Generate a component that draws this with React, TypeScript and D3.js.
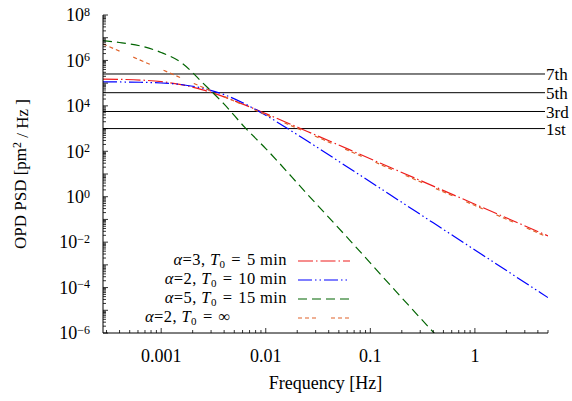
import React from "react";
import * as d3 from "d3";

// ---- data ----
const FREQ = [0.0002778, 0.0004, 0.00063, 0.001, 0.0016, 0.0025, 0.004, 0.0063, 0.01, 0.025, 0.063, 0.16, 0.4, 1, 2.5, 5];
const PSD_RED = [1.51e5, 1.47e5, 1.37e5, 1.165e5, 8.4e4, 5.06e4, 2.47e4, 1.1e4, 4560, 747, 118, 18.3, 2.93, 0.469, 0.0751, 0.0188];
const PSD_BLUE = [1.139e5, 1.127e5, 1.093e5, 1.015e5, 8.52e4, 6.01e4, 3.12e4, 1.232e4, 3836, 281, 18.0, 1.103, 0.0706, 0.00452, 2.89e-4, 3.62e-5];
const PSD_ORANGE = [5.3e6, 2.56e6, 1.03e6, 4.1e5, 1.6e5, 6.56e4, 2.56e4, 1.03e4, 4100, 656, 103, 16.0, 2.56, 0.41, 0.0656, 0.0164];
const FREQ_GREEN = [0.0002778, 0.000398, 0.000631, 0.001, 0.001585, 0.00251, 0.00398, 0.00631, 0.01, 0.0251, 0.0631, 0.158, 0.398, 0.631];
const PSD_GREEN = [7.41e6, 6.17e6, 4.37e6, 2.24e6, 7.59e5, 1.0e5, 1.22e4, 1130, 132, 1.26, 0.0126, 1.17e-4, 1.12e-6, 1.15e-7];

const HARMONIC_LABELS = ["7th", "5th", "3rd", "1st"];
const HARMONIC_VALUES = [2.53e5, 3.8e4, 5.65e3, 1.0e3];

const X_TICKS = [0.001, 0.01, 0.1, 1];
const X_TICK_LABELS = ["0.001", "0.01", "0.1", "1"];
const Y_TICK_EXPONENTS = [8, 6, 4, 2, 0, -2, -4, -6];

const LEGEND_ALPHA = ["3", "2", "5", "2"];
const LEGEND_T0 = ["5 min", "10 min", "15 min", "∞"];

const FONT = "Liberation Serif, DejaVu Serif, serif";

export default function App() {
  const W = 572, H = 401;
  const left = 103, right = 548, top = 15, bottom = 333;
  const x = d3.scaleLog().domain([1 / 3600, 5]).range([left, right]);
  const y = d3.scaleLog().domain([1e-6, 1e8]).range([bottom, top]);

  const mk = (fs: number[], vs: number[]) =>
    d3
      .line<number>()
      .x((_, i) => x(fs[i]))
      .y((_, i) => y(vs[i]))
      .curve(d3.curveMonotoneX)(vs) || "";

  const series = [
    { fs: FREQ, vs: PSD_RED, color: "#ee1c1c", dash: "15,3,1.5,3" },
    { fs: FREQ, vs: PSD_BLUE, color: "#0000ff", dash: "14,3,1.5,3,1.5,3" },
    { fs: FREQ_GREEN, vs: PSD_GREEN, color: "#006400", dash: "9,5" },
    { fs: FREQ, vs: PSD_ORANGE, color: "#e0622a", dash: "4,3,4,3,4,15" },
  ];

  const xTicks: { v: number; major: boolean }[] = [];
  for (let e = -4; e <= 0; e++) {
    for (let k = 1; k <= 9; k++) {
      const v = k * Math.pow(10, e);
      if (v >= 1 / 3600 && v <= 5) xTicks.push({ v, major: k === 1 });
    }
  }
  const yTicks: { v: number; major: boolean }[] = [];
  for (let e = -6; e <= 8; e++) {
    for (let k = 1; k <= 9; k++) {
      const v = k * Math.pow(10, e);
      if (v <= 1e8) yTicks.push({ v, major: k === 1 });
    }
  }

  const legendBase = 265;
  const legendStep = 19;
  const SP = "\u2004";

  return (
    <svg width={W} height={H} style={{ position: "absolute", left: 0, top: 0, background: "#fff", fontFamily: FONT }}>
      <defs>
        <clipPath id="plotclip">
          <rect x={left} y={top} width={right - left} height={bottom - top} />
        </clipPath>
      </defs>

      {/* harmonic lines */}
      {HARMONIC_VALUES.map((v, i) => (
        <g key={"h" + i}>
          <line x1={left} x2={545} y1={y(v)} y2={y(v)} stroke="#000" strokeWidth={1} />
          <text x={546} y={y(v)} dy="0.36em" fontSize={17} fill="#000">
            {HARMONIC_LABELS[i]}
          </text>
        </g>
      ))}

      {/* curves */}
      <g clipPath="url(#plotclip)">
        {series.map((s, i) => (
          <path key={"s" + i} d={mk(s.fs, s.vs)} fill="none" stroke={s.color} strokeWidth={1.2} strokeDasharray={s.dash} />
        ))}
      </g>

      {/* axes */}
      <line x1={left} x2={left} y1={top} y2={bottom} stroke="#000" strokeWidth={1} />
      <line x1={left} x2={right} y1={bottom} y2={bottom} stroke="#000" strokeWidth={1} />
      {xTicks.map((t, i) => (
        <line key={"xt" + i} x1={x(t.v)} x2={x(t.v)} y1={bottom} y2={bottom - (t.major ? 5 : 3)} stroke="#000" strokeWidth={0.8} />
      ))}
      {yTicks.map((t, i) => (
        <line key={"yt" + i} x1={left} x2={left + (t.major ? 5 : 3)} y1={y(t.v)} y2={y(t.v)} stroke="#000" strokeWidth={0.8} />
      ))}

      {/* x tick labels */}
      {X_TICKS.map((v, i) => (
        <text key={"xl" + i} x={x(v)} y={362} textAnchor="middle" fontSize={18} fill="#000">
          {X_TICK_LABELS[i]}
        </text>
      ))}
      {/* y tick labels */}
      {Y_TICK_EXPONENTS.map((e, i) => (
        <text key={"yl" + i} x={90} y={y(Math.pow(10, e))} dy="0.35em" textAnchor="end" fontSize={18} fill="#000">
          10
          <tspan dy="-0.45em" fontSize={12}>
            {e < 0 ? "−" + Math.abs(e) : String(e)}
          </tspan>
        </text>
      ))}

      {/* axis titles */}
      <text x={(left + right) / 2} y={389} textAnchor="middle" fontSize={18} fill="#000">
        Frequency [Hz]
      </text>
      <text transform={`translate(26,${(top + bottom) / 2}) rotate(-90)`} textAnchor="middle" fontSize={17} fill="#000">
        OPD PSD [pm
        <tspan dy="-0.45em" fontSize={12}>2</tspan>
        <tspan dy="0.45em"> / Hz ]</tspan>
      </text>

      {/* legend */}
      {series.map((s, i) => {
        const by = legendBase + i * legendStep;
        const last = i === series.length - 1;
        return (
          <g key={"lg" + i}>
            <text
              x={last ? 145 : 287}
              y={by}
              textAnchor={last ? "start" : "end"}
              fontSize={16.5}
              letterSpacing={0.4}
              fill="#000"
            >
              <tspan fontStyle="italic">α</tspan>={LEGEND_ALPHA[i]},{" "}
              <tspan fontStyle="italic">T</tspan>
              <tspan dy="3" fontSize={11}>0</tspan>
              <tspan dy="-3">{SP + "=" + SP + LEGEND_T0[i]}</tspan>
            </text>
            <line x1={298} x2={350} y1={by - 4} y2={by - 4} stroke={s.color} strokeWidth={1.2} strokeDasharray={s.dash} />
          </g>
        );
      })}
    </svg>
  );
}
